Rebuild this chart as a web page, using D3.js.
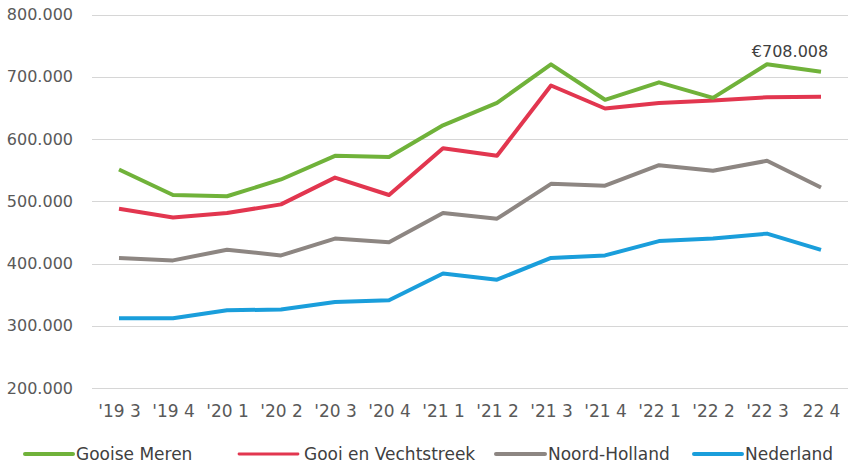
<!DOCTYPE html>
<html>
<head>
<meta charset="utf-8">
<script src="https://cdn.jsdelivr.net/npm/d3@7/dist/d3.min.js"></script>
<style>
  html, body { margin: 0; padding: 0; background: #fff; }
  svg text { font-family: "DejaVu Sans", sans-serif; }
</style>
</head>
<body>
<svg id="chart" width="856" height="473"></svg>
<script>
const
  quarters = ["'19 3", "'19 4", "'20 1", "'20 2", "'20 3", "'20 4", "'21 1",
    "'21 2", "'21 3", "'21 4", "'22 1", "'22 2", "'22 3", "22 4"],
  gooiseMeren = [551000, 510000, 508000, 535000, 573000, 571000, 622000,
    658000, 720000, 663000, 691000, 666000, 720000, 708008],
  gooiVecht = [488000, 474000, 481000, 495000, 538000, 510000, 585000,
    573000, 686000, 649000, 658000, 662000, 667000, 668000],
  noordHolland = [409000, 405000, 422000, 413000, 440000, 434000, 481000,
    472000, 528000, 525000, 558000, 549000, 565000, 522000],
  nederland = [312000, 312000, 325000, 326000, 338000, 341000, 384000,
    374000, 409000, 413000, 436000, 440000, 448000, 422000],
  yTicks = [200000, 300000, 400000, 500000, 600000, 700000, 800000];

// lx / lw : legend swatch position and width, lt : swatch thickness
const series = [
  { name : 'Gooise Meren', values : gooiseMeren, color : '#70b23a', lx : 25, lw : 48, lt : 4 },
  { name : 'Gooi en Vechtstreek', values : gooiVecht, color : '#e2364f', lx : 239, lw : 59, lt : 2.8 },
  { name : 'Noord-Holland', values : noordHolland, color : '#8d8682', lx : 496, lw : 49, lt : 4 },
  { name : 'Nederland', values : nederland, color : '#1a9edb', lx : 694, lw : 48, lt : 4 }
];

const nl = d3.formatLocale({ decimal : ',', thousands : '.', grouping : [3], currency : ['€', ''] });
const fmt = nl.format(',');

const svg = d3.select('#chart');

const x = d3.scalePoint()
  .domain(quarters)
  .range([92, 848])
  .padding(0.5);

const y = d3.scaleLinear()
  .domain([200000, 800000])
  .range([388, 14.5]);

// gridlines
svg.append('g')
  .selectAll('line')
  .data(yTicks)
  .enter()
  .append('line')
  .attr('x1', 92)
  .attr('x2', 848)
  .attr('y1', (d) => Math.round(y(d)) + 0.5)
  .attr('y2', (d) => Math.round(y(d)) + 0.5)
  .attr('stroke', '#d6d6d6')
  .attr('stroke-width', 1.2);

// y axis labels
const yAxis = svg.append('g')
  .attr('transform', 'translate(73,0)')
  .call(d3.axisLeft(y).tickValues(yTicks).tickFormat(fmt).tickSize(0).tickPadding(0));
yAxis.select('.domain').remove();
yAxis.selectAll('text')
  .style('font-size', '16px')
  .style('font-family', '"DejaVu Sans", sans-serif')
  .attr('fill', '#595959');

// x axis labels
const xAxis = svg.append('g')
  .attr('transform', 'translate(0,405)')
  .call(d3.axisBottom(x).tickSize(0).tickPadding(0));
xAxis.select('.domain').remove();
xAxis.selectAll('text')
  .style('font-size', '17px')
  .style('font-family', '"DejaVu Sans", sans-serif')
  .attr('fill', '#595959');

// lines
const line = d3.line()
  .x((d, i) => x(quarters[i]))
  .y((d) => y(d));

svg.append('g')
  .selectAll('path')
  .data(series.slice().reverse())
  .enter()
  .append('path')
  .attr('d', (s) => line(s.values))
  .attr('fill', 'none')
  .attr('stroke', (s) => s.color)
  .attr('stroke-width', 4)
  .attr('stroke-linejoin', 'round');

// annotation on last green point
const lastIdx = quarters.length - 1;
svg.append('text')
  .attr('x', x(quarters[lastIdx]) - 31)
  .attr('y', y(gooiseMeren[lastIdx]) - 15)
  .attr('text-anchor', 'middle')
  .style('font-size', '16px')
  .attr('fill', '#404040')
  .text(nl.format('$,')(gooiseMeren[lastIdx]));

// legend
const legend = svg.append('g')
  .attr('transform', 'translate(0,454)')
  .selectAll('g')
  .data(series)
  .enter()
  .append('g')
  .attr('transform', (s) => `translate(${s.lx},0)`);

legend.append('line')
  .attr('x1', 0)
  .attr('x2', (s) => s.lw)
  .attr('stroke', (s) => s.color)
  .attr('stroke-width', (s) => s.lt)
  .attr('stroke-linecap', 'round');

legend.append('text')
  .attr('x', (s) => s.lw + (s.lt < 4 ? 6 : 3))
  .attr('dy', '0.36em')
  .style('font-size', '17px')
  .attr('fill', '#404040')
  .text((s) => s.name);
</script>
</body>
</html>
